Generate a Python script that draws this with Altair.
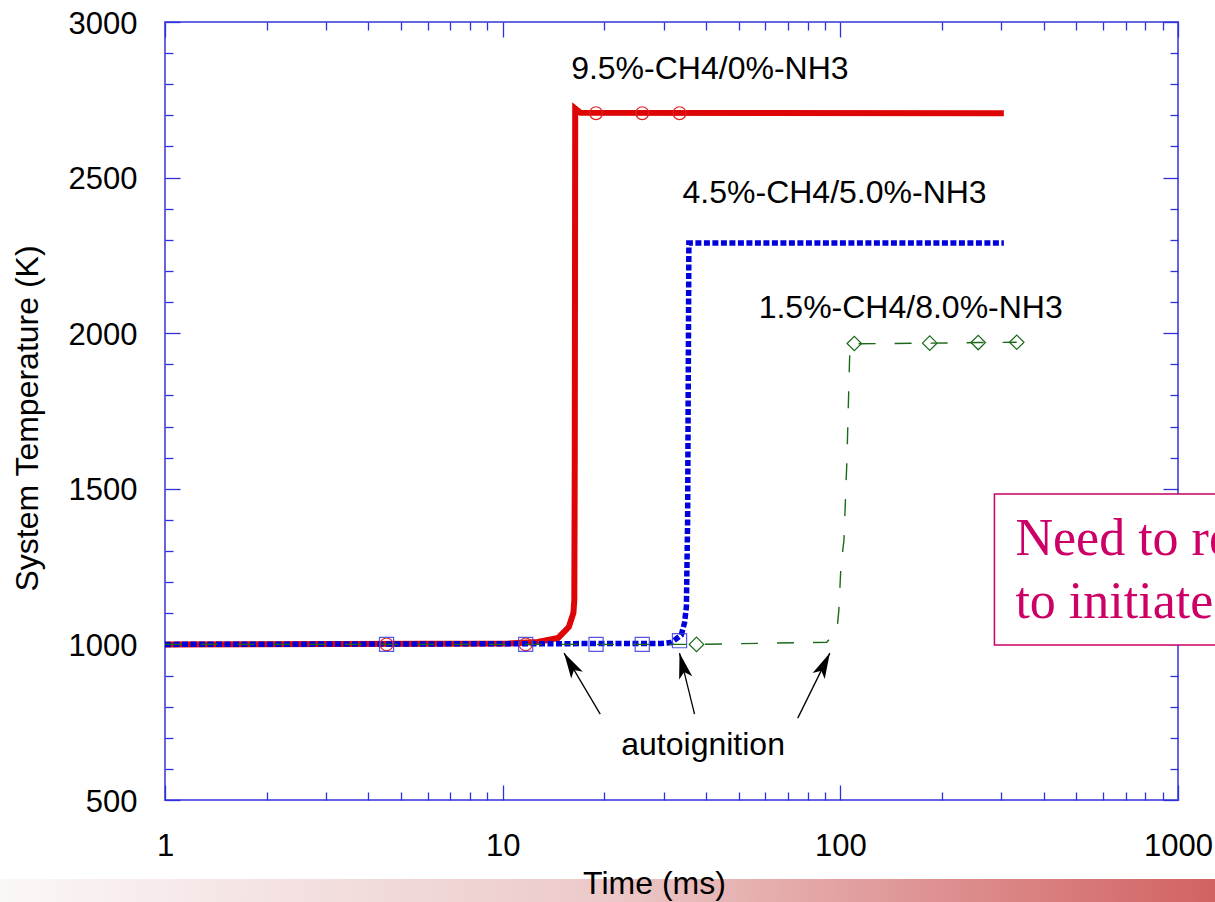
import altair as alt
import pandas as pd

# ---------------- data ----------------
red_t = [1, 10.4, 12.7, 14.6, 15.7, 16.2, 16.3, 16.35, 16.4, 17.0, 305]
red_T = [1000, 1003, 1008, 1021, 1056, 1101, 1143, 1600, 2722, 2708, 2707]

blue_t = [1, 29.5, 31.6, 33.8, 34.55, 35.0, 35.3, 35.6, 305]
blue_T = [1000, 1003, 1006, 1030, 1069, 1120, 1400, 2290, 2290]

green_t = [1, 37.5, 91.2, 97.7, 99.0, 100.4, 102.5, 104.6, 106.1, 106.8, 110, 184, 256, 333]
green_T = [1000, 1000, 1007, 1045, 1110, 1250, 1335, 1593, 1850, 1962, 1966, 1968, 1970, 1971]

red_mk_t = [4.53, 11.7, 18.9, 25.9, 33.4]
red_mk_T = [1000, 1000, 2707, 2707, 2707]
blue_mk_t = [4.53, 11.7, 18.9, 25.9, 33.4]
blue_mk_T = [1000, 1000, 1000, 1000, 1012]
green_mk_t = [37.5, 110, 184, 256, 333]
green_mk_T = [1000, 1967, 1968, 1970, 1971]

label_text = ["9.5%-CH4/0%-NH3", "4.5%-CH4/5.0%-NH3", "1.5%-CH4/8.0%-NH3", "autoignition"]
label_t = [15.95, 34.1, 57.3, 22.45]
label_T = [2817, 2418, 2049, 645]

arrow_tail_t = [19.45, 37.0, 74.8]
arrow_tail_T = [776, 776, 763]
arrow_tip_t = [15.2, 33.4, 93.1]
arrow_tip_T = [972, 972, 972]
arrow_angle = [329.5, 346, 26]

box_t = [286, 1500]
box_T = [1483, 998]
box_lines = ["Need to reach higher", "to initiate combustion"]
box_line_t = [330, 330]
box_line_T = [1287, 1085]

x_major = [1, 10, 100, 1000]
x_all_ticks = [1, 2, 3, 4, 5, 6, 7, 8, 9, 10, 20, 30, 40, 50, 60, 70, 80, 90,
               100, 200, 300, 400, 500, 600, 700, 800, 900, 1000]
y_major = [500, 1000, 1500, 2000, 2500, 3000]
y_all_ticks = list(range(500, 3001, 100))

# ---------------- styling ----------------
W, H = 1013, 778
FONT = "Liberation Sans"
TICK_COLOR = "#3030dc"

xscale = alt.Scale(type="log", domain=[1, 1000], nice=False)
yscale = alt.Scale(domain=[500, 3000], zero=False, nice=False)

x_tick_size = {"condition": {"test": "datum.value == 1 || datum.value == 10 || datum.value == 100 || datum.value == 1000", "value": 15}, "value": 8}
y_tick_size = {"condition": {"test": "datum.value % 500 == 0", "value": 15}, "value": 8}

def df(**cols):
    return pd.DataFrame(cols)

# main axes (labels + titles only)
x_axis_main = alt.Axis(values=x_major, format="d", title="Time (ms)", titleFont=FONT,
                       titleFontSize=32, titleFontWeight="normal", titleColor="black",
                       titleX=489, titleY=93, titleAlign="center", titleBaseline="alphabetic",
                       ticks=False, tickSize=0, domain=False, grid=False,
                       labelFont=FONT, labelFontSize=31, labelColor="black",
                       labelPadding=31, labelFlush=False, labelOverlap=False, zindex=1)
y_axis_main = alt.Axis(values=y_major, format="d", title="System Temperature (K)", titleFont=FONT,
                       titleFontSize=32, titleFontWeight="normal", titleColor="black",
                       titleAngle=270, titleX=-128, titleY=396, titleAlign="center",
                       titleBaseline="alphabetic",
                       ticks=False, tickSize=0, domain=False, grid=False,
                       labelFont=FONT, labelFontSize=31, labelColor="black",
                       labelPadding=28, labelOffset=2, labelFlush=False, labelOverlap=False)

def tick_axis(orient, offset, values, size):
    return alt.Axis(orient=orient, offset=offset, values=values, labels=False, domain=False,
                    grid=False, ticks=True, tickSize=size, tickColor=TICK_COLOR,
                    tickWidth=1.3, title=None)

red_df = df(t=red_t, T=red_T)
blue_df = df(t=blue_t, T=blue_T)
green_df = df(t=green_t, T=green_T)

red_line = alt.Chart(red_df).mark_line(color="#dd0505", strokeWidth=6, strokeCap="butt").encode(
    x=alt.X("t:Q", scale=xscale, axis=x_axis_main),
    y=alt.Y("T:Q", scale=yscale, axis=y_axis_main),
    order=alt.Order("t:Q"))

blue_line = alt.Chart(blue_df).mark_line(color="#0000dc", strokeWidth=5.5, strokeDash=[6, 2.5], strokeCap="butt").encode(
    x=alt.X("t:Q", scale=xscale, axis=None),
    y=alt.Y("T:Q", scale=yscale, axis=None),
    order=alt.Order("t:Q"))

green_line = alt.Chart(green_df).mark_line(color="#1a6a1a", strokeWidth=1.4, strokeDash=[17, 19]).encode(
    x=alt.X("t:Q", scale=xscale, axis=None),
    y=alt.Y("T:Q", scale=yscale, axis=None),
    order=alt.Order("t:Q"))

# inside ticks on the bottom edge and the left edge
ticks_a = alt.Chart(df(t=[1.0], T=[1000])).mark_point(opacity=0).encode(
    x=alt.X("t:Q", scale=xscale, axis=tick_axis("top", -H, x_all_ticks, x_tick_size)),
    y=alt.Y("T:Q", scale=yscale, axis=tick_axis("right", -W, y_all_ticks, y_tick_size)))
# inside ticks on the top edge and the right edge
ticks_b = alt.Chart(df(t=[1.0], T=[1000])).mark_point(opacity=0).encode(
    x=alt.X("t:Q", scale=xscale, axis=tick_axis("bottom", -H, x_all_ticks, x_tick_size)),
    y=alt.Y("T:Q", scale=yscale, axis=tick_axis("left", -W, y_all_ticks, y_tick_size)))

def markers(t, T, shape, color, size, opacity=1.0):
    return alt.Chart(df(t=t, T=T)).mark_point(shape=shape, filled=False, color=color, size=size,
                                               strokeWidth=1.2, opacity=opacity).encode(
        x=alt.X("t:Q", scale=xscale, axis=None),
        y=alt.Y("T:Q", scale=yscale, axis=None))

red_mk = markers(red_mk_t, red_mk_T, "circle", "#e02020", 165)
blue_mk = markers(blue_mk_t, blue_mk_T, "square", "#3a3ae0", 200, 0.85)
green_mk = markers(green_mk_t, green_mk_T, "diamond", "#1a6a1a", 210)

labels = alt.Chart(df(t=label_t, T=label_T, s=label_text)).mark_text(
    align="left", baseline="alphabetic", font=FONT, fontSize=32, color="black").encode(
    x=alt.X("t:Q", scale=xscale, axis=None),
    y=alt.Y("T:Q", scale=yscale, axis=None),
    text="s:N")

arrow_df = df(t0=arrow_tail_t, T0=arrow_tail_T, t1=arrow_tip_t, T1=arrow_tip_T, ang=arrow_angle)
arrow_lines = alt.Chart(arrow_df).mark_rule(color="black", strokeWidth=1.3).encode(
    x=alt.X("t0:Q", scale=xscale, axis=None), x2="t1:Q",
    y=alt.Y("T0:Q", scale=yscale, axis=None), y2="T1:Q")
arrow_heads = alt.Chart(arrow_df).mark_point(
    shape="M0,0 L0.45,1.7 L0,1.3 L-0.45,1.7 Z", filled=True, color="black", size=900, opacity=1).encode(
    x=alt.X("t1:Q", scale=xscale, axis=None),
    y=alt.Y("T1:Q", scale=yscale, axis=None),
    angle=alt.Angle("ang:Q", scale=None))

box = alt.Chart(df(t0=[box_t[0]], t1=[box_t[1]], T0=[box_T[0]], T1=[box_T[1]])).mark_rect(
    fill="white", stroke="#cc0066", strokeWidth=1.5).encode(
    x=alt.X("t0:Q", scale=xscale, axis=None), x2="t1:Q",
    y=alt.Y("T0:Q", scale=yscale, axis=None), y2="T1:Q")
box_text = alt.Chart(df(t=box_line_t, T=box_line_T, s=box_lines)).mark_text(
    align="left", baseline="alphabetic", font="Liberation Serif", fontSize=52, color="#cc0066").encode(
    x=alt.X("t:Q", scale=xscale, axis=None),
    y=alt.Y("T:Q", scale=yscale, axis=None),
    text="s:N")

band = alt.Chart(df(a=[0])).mark_rect(
    color=alt.LinearGradient(gradient="linear", x1=0, x2=1, y1=0, y2=0,
                             stops=[alt.GradientStop(color="#fbf7f7", offset=0),
                                    alt.GradientStop(color="#ecc9c9", offset=0.5),
                                    alt.GradientStop(color="#d26262", offset=1)])).encode(
    x=alt.value(-165), x2=alt.value(1050), y=alt.value(857), y2=alt.value(880))

chart = alt.layer(
    band, ticks_a, ticks_b, red_line, blue_line, green_line, red_mk, blue_mk, green_mk,
    arrow_lines, arrow_heads, labels, box, box_text
).resolve_axis(x="independent", y="independent").properties(
    width=W, height=H,
    padding={"left": 165, "top": 22, "right": 37, "bottom": 102},
    autosize=alt.AutoSizeParams(type="none"),
    background="white"
).configure_view(stroke="#6464e4", strokeWidth=2)

chart.save("out.html", embed_options={"renderer": "svg", "actions": False})
